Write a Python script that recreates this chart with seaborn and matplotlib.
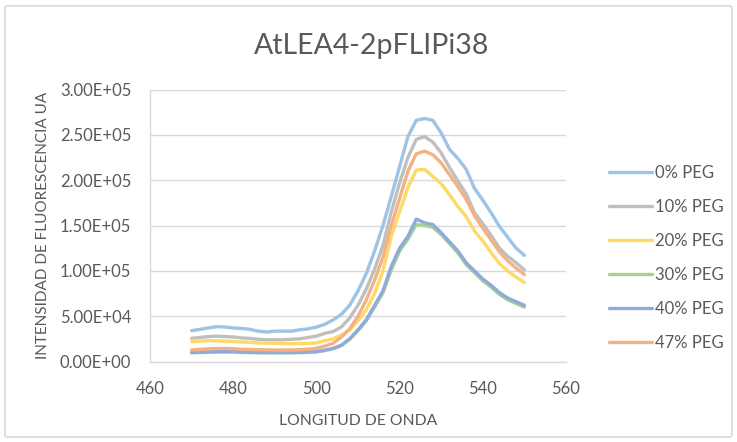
import numpy as np
import pandas as pd
import matplotlib
matplotlib.use("Agg")
import matplotlib.pyplot as plt
import seaborn as sns
from matplotlib.patches import FancyBboxPatch

# Emission wavelength (nm) and fluorescence intensity (x1000 UA) per PEG level
wavelength = list(range(470, 552, 2))

peg_0 = [34, 35.5, 37, 38.4, 38, 37, 36.5, 35.5, 33.5, 32.5, 33.5, 33.5, 33.5, 35, 36, 38,
         41, 45.8, 52, 62, 78, 97, 122, 150, 182, 215, 248, 266, 268, 266, 252, 234, 224,
         212, 191, 178, 164, 149, 137, 125, 117]
peg_10 = [25.6, 26.5, 27.5, 28, 27.5, 27, 26, 25.5, 24.5, 24, 24, 24, 24.5, 25, 26.5, 28,
          31, 33, 38, 48, 62, 80, 102, 128, 165, 197, 225, 245, 248, 242, 230, 214, 199,
          185, 164, 152, 139, 125, 116, 109, 101]
peg_20 = [21.8, 22.5, 23, 22.8, 22.5, 22, 21.5, 21, 20.5, 20.3, 20, 19.8, 19.6, 19.8, 20, 20.5,
          23, 25, 29, 34.7, 45, 57, 75, 100, 138, 165, 192, 211, 212, 204, 196, 184, 171,
          160, 144, 133, 120, 108, 100, 93, 87]
peg_30 = [9.5, 9.8, 10.2, 10.5, 10.5, 10.3, 10, 9.8, 9.6, 9.5, 9.5, 9.5, 9.5, 9.8, 10, 10.5,
          12, 14, 17.5, 24.5, 34, 45, 60, 76, 101, 122, 135, 151, 150, 148, 140, 130, 120,
          107, 98, 89, 82, 74, 68, 64, 60]
peg_40 = [10, 10.3, 10.5, 10.8, 11, 11, 10.5, 10.3, 10, 10, 10, 10, 10, 10.2, 10.5, 11,
          12.5, 14.5, 18, 25, 35, 46, 62, 78, 105, 125, 138, 157, 153, 151, 142, 132, 122,
          109, 100, 91, 84, 76, 70, 66, 62]
peg_47 = [12.7, 13.3, 14, 14.3, 14.5, 14.2, 13.5, 13.3, 13, 12.8, 12.7, 12.7, 12.7, 13, 13.5, 14.5,
          17, 20, 27, 36, 50, 68, 90, 115, 150, 180, 210, 229, 232, 228, 219, 206, 193,
          179, 161, 147, 134, 121, 111, 103, 96]

series_names = ["0% PEG", "10% PEG", "20% PEG", "30% PEG", "40% PEG", "47% PEG"]
series_values = [peg_0, peg_10, peg_20, peg_30, peg_40, peg_47]
colors = ["#9dc3e6", "#bfbfbf", "#ffd966", "#a9d18e", "#8faadc", "#f4b183"]

x_ticks = [460, 480, 500, 520, 540, 560]
y_ticks = [0, 50000, 100000, 150000, 200000, 250000, 300000]

frames = []
for name, vals in zip(series_names, series_values):
    frames.append(pd.DataFrame({
        "wavelength": wavelength,
        "intensity": np.array(vals) * 1000.0,
        "serie": name,
    }))
df = pd.concat(frames, ignore_index=True)

sns.set_theme(style="white")
plt.rcParams["font.family"] = ["Lato", "DejaVu Sans"]

text_color = "#595959"
grid_color = "#d9d9d9"

fig = plt.figure(figsize=(7.37, 4.42), dpi=100)
ax = fig.add_axes([150 / 737, 1 - 361.5 / 442, 416 / 737, 272 / 442])

sns.lineplot(data=df, x="wavelength", y="intensity", hue="serie",
             hue_order=series_names, palette=colors, linewidth=2.4,
             ax=ax, legend=False, zorder=3)

ax.set_xlim(460, 560)
ax.set_ylim(0, 300000)
ax.set_xticks(x_ticks)
ax.set_yticks(y_ticks)
ax.set_yticklabels([f"{v:.2E}" for v in y_ticks])
ax.tick_params(axis="both", length=0, labelsize=12, colors=text_color)
ax.tick_params(axis="y", pad=13.5)
ax.tick_params(axis="x", pad=14)
ax.yaxis.grid(True, color=grid_color, linewidth=1.0)
ax.xaxis.grid(False)
for side in ["top", "right"]:
    ax.spines[side].set_visible(False)
for side in ["left", "bottom"]:
    ax.spines[side].set_color(grid_color)
    ax.spines[side].set_linewidth(1.0)

ax.set_xlabel("LONGITUD DE ONDA", fontsize=11.3, color=text_color, labelpad=12)
ax.set_ylabel("INTENSIDAD DE FLUORESCENCIA UA", fontsize=11, color=text_color, labelpad=7)

fig.text(372 / 737, 1 - 46 / 442, "AtLEA4-2pFLIPi38", ha="center", va="center",
         fontsize=20.5, color=text_color)

handles = [plt.Line2D([], [], color=c, linewidth=2.4) for c in colors]
fig.legend(handles, series_names, loc="upper left",
           bbox_to_anchor=(609 / 737, 1 - 165 / 442), frameon=False,
           fontsize=12, labelcolor=text_color, handlelength=2.55,
           handletextpad=0.2, labelspacing=1.08, borderpad=0, borderaxespad=0)

# Chart-area border
border = FancyBboxPatch((5 / 737, 5 / 442), 727 / 737, 431 / 442,
                        boxstyle="round,pad=0,rounding_size=0.004",
                        transform=fig.transFigure, fill=False,
                        edgecolor="#d9d9d9", linewidth=1.2)
fig.patches.append(border)

fig.savefig("out.png", dpi=100, facecolor="white")
